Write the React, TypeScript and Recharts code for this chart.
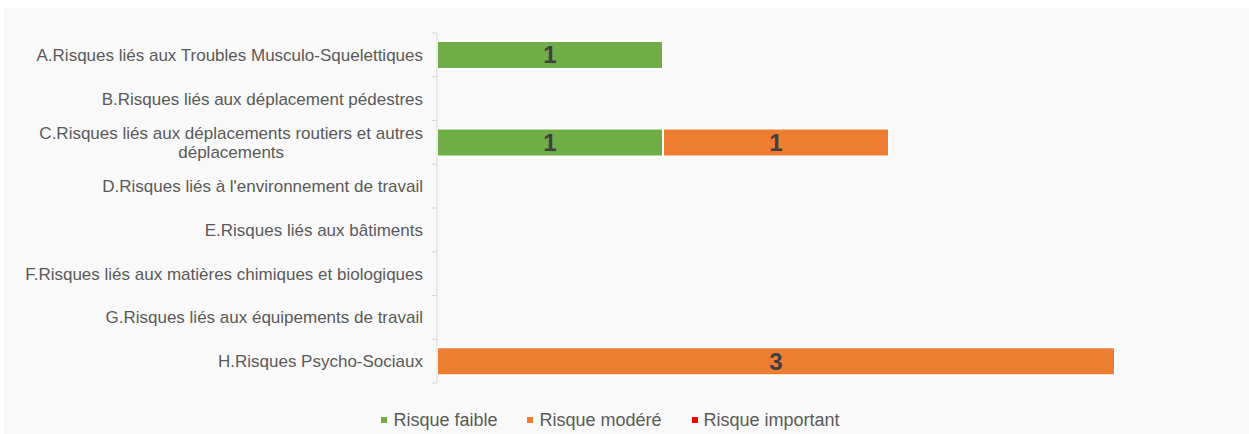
import { Bar, BarChart, LabelList, Legend, XAxis, YAxis } from "recharts";

/* ===== Data ===== */
const categories = [
  "A.Risques liés aux Troubles Musculo-Squelettiques",
  "B.Risques liés aux déplacement pédestres",
  "C.Risques liés aux déplacements routiers et autres déplacements",
  "D.Risques liés à l'environnement de travail",
  "E.Risques liés aux bâtiments",
  "F.Risques liés aux matières chimiques et biologiques",
  "G.Risques liés aux équipements de travail",
  "H.Risques Psycho-Sociaux",
];
const faible = [1, 0, 1, 0, 0, 0, 0, 0];
const modere = [0, 0, 1, 0, 0, 0, 0, 3];
const important = [0, 0, 0, 0, 0, 0, 0, 0];

const seriesNames = ["Risque faible", "Risque modéré", "Risque important"];
const seriesColors = ["#70AD47", "#ED7D31", "#FF0000"];

const FONT = "'Liberation Sans', Arial, sans-serif";
const TEXT = "#595959";
const AXIS = "#D9D9D9";

const W = 1245;
const H = 426;
const MARGIN = { top: 25, right: 21, bottom: 31, left: 0 };
const LEGEND_H = 20;
const PLOT_H = H - MARGIN.top - MARGIN.bottom - LEGEND_H;
const BAND = PLOT_H / categories.length;

const chartData = categories.map((name, i) => ({
  name,
  faible: faible[i],
  modere: modere[i],
  important: important[i],
}));

/* ===== Text measuring / wrapping ===== */
let ctx: CanvasRenderingContext2D | null = null;
const measure = (s: string) => {
  if (!ctx) ctx = document.createElement("canvas").getContext("2d");
  if (!ctx) return s.length * 8;
  ctx.font = "17px 'Liberation Sans', Arial";
  return ctx.measureText(s).width;
};

const wrap = (s: string, max: number) => {
  const words = s.split(" ");
  const lines: string[] = [];
  let cur = "";
  words.forEach((w) => {
    const next = cur ? cur + " " + w : w;
    if (cur && measure(next) > max) {
      lines.push(cur);
      cur = w;
    } else cur = next;
  });
  if (cur) lines.push(cur);
  return lines;
};

/* ===== Tick (label + boundary tick marks, Excel style) ===== */
const CategoryTick = ({ x, y, payload, index }: any) => {
  const lines = wrap(payload.value, 410);
  const ax = x + 14;
  const marks = (
    <>
      <line x1={ax - 5} x2={ax} y1={y - BAND / 2} y2={y - BAND / 2} stroke={AXIS} />
      {index === categories.length - 1 && (
        <line x1={ax - 5} x2={ax} y1={y + BAND / 2} y2={y + BAND / 2} stroke={AXIS} />
      )}
    </>
  );
  if (lines.length === 1) {
    return (
      <g>
        {marks}
        <text x={x} y={y} dy="0.355em" textAnchor="end" fill={TEXT} fontSize={17} fontFamily={FONT}>
          {lines[0]}
        </text>
      </g>
    );
  }
  const w = Math.max(...lines.map(measure));
  const start = -((lines.length - 1) * 19) / 2;
  return (
    <g>
      {marks}
      <text x={x - w / 2} y={y} textAnchor="middle" fill={TEXT} fontSize={17} fontFamily={FONT}>
        {lines.map((l, i) => (
          <tspan key={i} x={x - w / 2} dy={i === 0 ? start + 6 : 19}>
            {l}
          </tspan>
        ))}
      </text>
    </g>
  );
};

/* ===== Legend ===== */
const LegendContent = () => (
  <div
    style={{
      display: "flex",
      justifyContent: "center",
      paddingRight: 32,
      fontFamily: FONT,
      fontSize: 18,
      color: TEXT,
      lineHeight: LEGEND_H + "px",
      height: LEGEND_H,
    }}
  >
    {seriesNames.map((n, i) => (
      <div key={n} style={{ display: "flex", alignItems: "center", marginLeft: i ? 30 : 0 }}>
        <span style={{ width: 6, height: 6, background: seriesColors[i], marginRight: 6 }} />
        {n}
      </div>
    ))}
  </div>
);

const labelFmt = (v: any) => (v ? v : "");

export default function App() {
  return (
    <div style={{ position: "absolute", left: 0, top: 0, width: 1249, height: 434, background: "#fff" }}>
      <div style={{ position: "absolute", left: 4, top: 8, width: W, height: H, background: "#F9F9F9" }}>
        <BarChart
          width={W}
          height={H}
          data={chartData}
          layout="vertical"
          margin={MARGIN}
          barCategoryGap="18%"
        >
          <XAxis type="number" domain={[0, 3.5]} hide />
          <YAxis
            type="category"
            dataKey="name"
            width={433}
            axisLine={{ stroke: AXIS }}
            tickLine={false}
            tickSize={5}
            tickMargin={9}
            interval={0}
            tick={<CategoryTick />}
          />
          <Legend
            content={<LegendContent />}
            wrapperStyle={{ left: 0, width: W, top: 402, height: LEGEND_H }}
          />
          {(["faible", "modere", "important"] as const).map((k, i) => (
            <Bar
              key={k}
              dataKey={k}
              name={seriesNames[i]}
              stackId="a"
              fill={seriesColors[i]}
              stroke="#FFFFFF"
              strokeWidth={2}
              isAnimationActive={false}
            >
              <LabelList
                dataKey={k}
                position="center"
                formatter={labelFmt}
                fill="#404040"
                fontSize={24}
                fontWeight="bold"
                fontFamily={FONT}
              />
            </Bar>
          ))}
        </BarChart>
      </div>
    </div>
  );
}
